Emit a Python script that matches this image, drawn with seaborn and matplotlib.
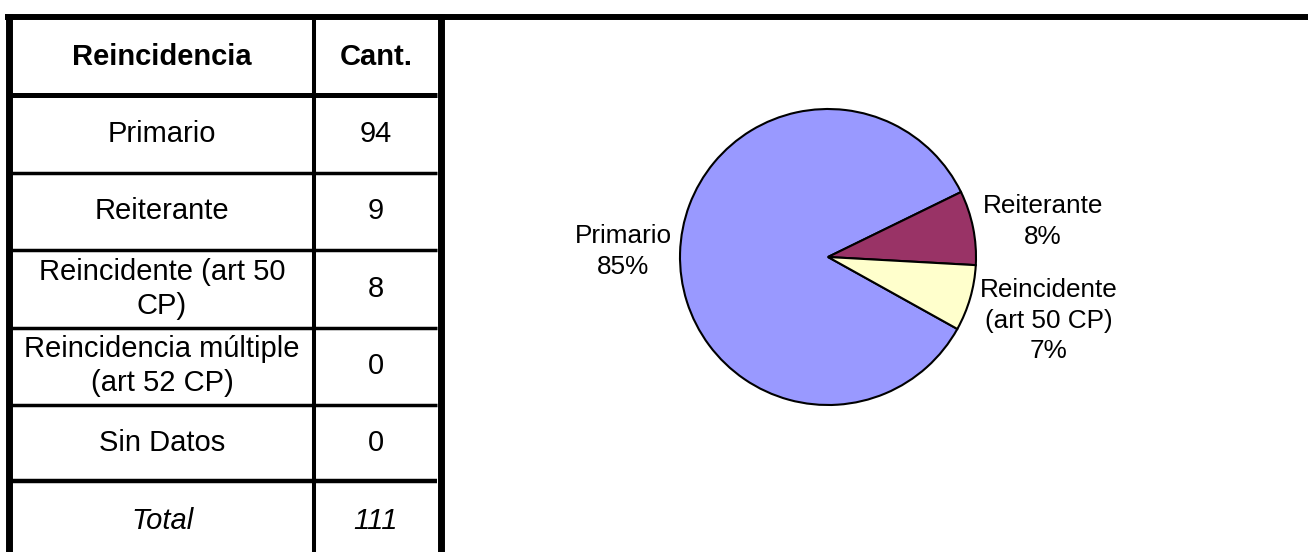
import numpy as np
import matplotlib
matplotlib.use("Agg")
import matplotlib.pyplot as plt
import seaborn as sns

# data
categorias = ['Primario', 'Reiterante', 'Reincidente (art 50\nCP)',
              'Reincidencia múltiple\n(art 52 CP)', 'Sin Datos']
cantidades = [94, 9, 8, 0, 0]
total = 111
etiquetas_pie = ['Primario', 'Reiterante', 'Reincidente\n(art 50 CP)',
                 'Reincidencia múltiple\n(art 52 CP)', 'Sin Datos']
colores = ['#9999FF', '#993366', '#FFFFCC', '#FFFFFF', '#CCFFFF']

sns.set_theme(style='white')
plt.rcParams['font.family'] = ['Liberation Sans', 'DejaVu Sans']
plt.rcParams['text.color'] = 'black'

fig = plt.figure(figsize=(13.08, 5.52), dpi=100)

# table drawn in pixel coordinates
ax_t = fig.add_axes([0, 0, 1, 1])
ax_t.set_xlim(0, 1308)
ax_t.set_ylim(552, 0)
ax_t.axis('off')

ax_t.hlines(17, 5, 1308, color='black', lw=4.3)
ax_t.vlines(8.5, 14, 552, color='black', lw=5)
ax_t.vlines(440.5, 14, 552, color='black', lw=5)
ax_t.vlines(314, 20, 552, color='black', lw=2.9)

row_lines = [94.5, 172.5, 250, 327.5, 404.5, 481]
row_lw = [3.6, 2.5, 2.5, 2.5, 2.5, 3.2]
for y, lw in zip(row_lines, row_lw):
    ax_t.hlines(y, 12, 437, color='black', lw=lw)

x1, x2 = 162, 376
fs = 21
ax_t.text(x1, 57, 'Reincidencia', ha='center', va='center', fontsize=fs, fontweight='bold')
ax_t.text(x2, 57, 'Cant.', ha='center', va='center', fontsize=fs, fontweight='bold')

row_y = [134, 211, 289, 366, 443]
for y, cat, n in zip(row_y, categorias, cantidades):
    ax_t.text(x1, y, cat, ha='center', va='center', fontsize=fs, linespacing=1.3)
    ax_t.text(x2, y, str(n), ha='center', va='center', fontsize=fs)
ax_t.text(x1, 521, 'Total', ha='center', va='center', fontsize=fs, style='italic')
ax_t.text(x2, 521, str(total), ha='center', va='center', fontsize=fs, style='italic')

# pie chart
r_pix = 148
cx, cy = 828, 552 - 257
lim = 1.8
half = r_pix * lim
ax_p = fig.add_axes([(cx - half) / 1308, (cy - half) / 552, 2 * half / 1308, 2 * half / 552])
vals = np.array(cantidades, dtype=float)
mask = vals > 0
wedges, _ = ax_p.pie(vals[mask], colors=[c for c, m in zip(colores, mask) if m],
                     startangle=-29.1, counterclock=False,
                     wedgeprops=dict(edgecolor='black', linewidth=1.5))
ax_p.set_xlim(-lim, lim)
ax_p.set_ylim(-lim, lim)
ax_p.set_aspect('equal')
ax_p.axis('off')

pct = vals[mask] / vals[mask].sum() * 100
dist = [1.385, 1.47, 1.55]
ang_off = [0, -2, 0]
labs = [l for l, m in zip(etiquetas_pie, mask) if m]
for w, lab, p, d, o in zip(wedges, labs, pct, dist, ang_off):
    ang = np.deg2rad((w.theta1 + w.theta2) / 2 + o)
    ax_p.text(d * np.cos(ang), d * np.sin(ang), f'{lab}\n{p:.0f}%',
              ha='center', va='center', fontsize=18.8, linespacing=1.35)

fig.savefig('out.png', dpi=100)
